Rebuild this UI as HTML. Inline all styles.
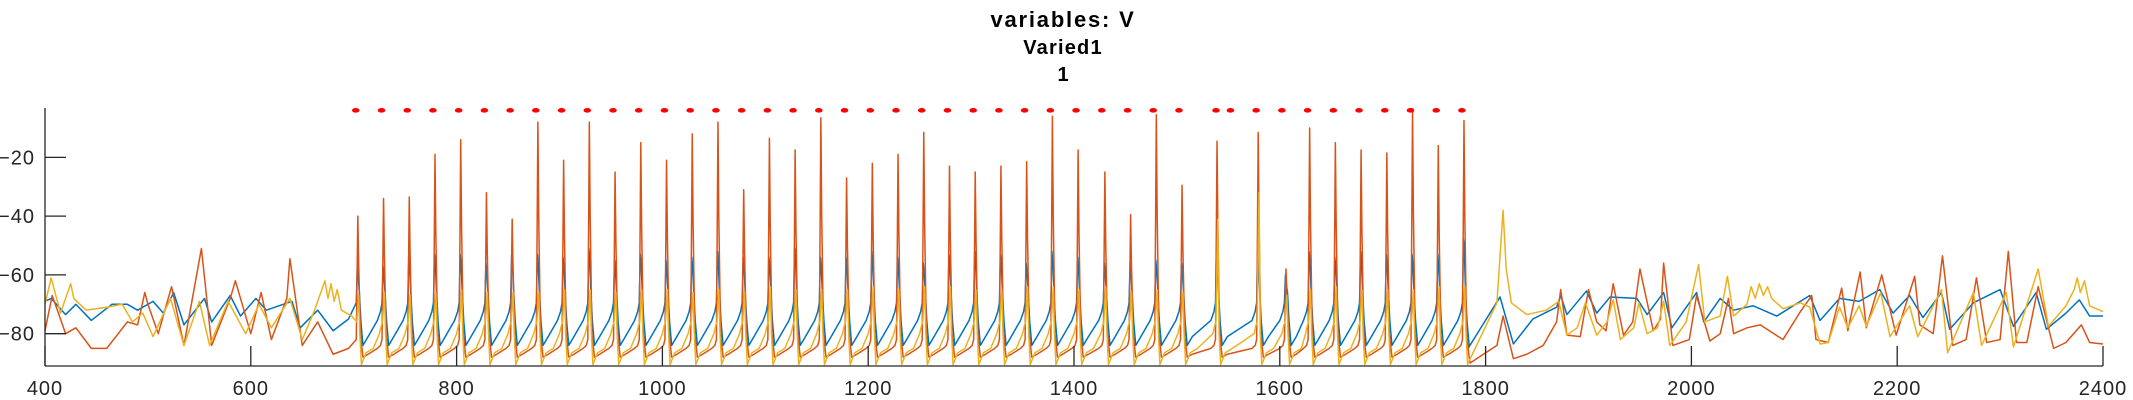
<!DOCTYPE html>
<html>
<head>
<meta charset="utf-8">
<style>
  html,body{margin:0;padding:0;background:#fff;}
  svg{display:block;font-family:"Liberation Sans",Helvetica,Arial,sans-serif;}
</style>
</head>
<body>
<svg id="chart" width="2133" height="400" viewBox="0 0 2133 400" xmlns="http://www.w3.org/2000/svg">
  <text x="1063" y="27" text-anchor="middle" font-size="22" font-weight="bold" letter-spacing="1.8" fill="#000">variables: V</text>
  <text x="1063" y="54" text-anchor="middle" font-size="20" font-weight="bold" letter-spacing="1.2" fill="#000">Varied1</text>
  <text x="1063" y="81" text-anchor="middle" font-size="20" font-weight="bold" fill="#000">1</text>
  <g id="plot"></g>
  <g id="axes"></g>
</svg>
<script>
// ---- data ----
const xTicks = [400, 600, 800, 1000, 1200, 1400, 1600, 1800, 2000, 2200, 2400];
const yTicks = [-80, -60, -40, -20];
const dotTimes = [702,727,752,777,802,827,852,877,902,927,952,977,1002,1027,1052,1077,1102,1127,1152,1177,1202,1227,1252,1277,1302,1327,1352,1377,1402,1427,1452,1477,1502,1538,1552,1577,1602,1627,1652,1677,1702,1727,1752,1777];
const dotLevel = -4;
const spikeTimes = [704,729,754,779,804,829,854,879,904,929,954,979,1004,1029,1054,1079,1104,1129,1154,1179,1204,1229,1254,1279,1304,1329,1354,1379,1404,1430,1455,1480,1505,1539,1579,1606,1629,1654,1679,1704,1729,1754,1779];
const redPeaks = [-40,-34,-33.5,-19,-14,-32,-41,-8,-21,-8,-25,-15,-21,-12,-8,-31,-13.5,-17.5,-6.5,-27,-22,-19,-11.5,-23,-25,-23,-21.5,-6,-17.5,-25,-39.5,-5.5,-29.5,-14.5,-11.5,-58,-10,-15,-17.5,-18.5,-3.5,-16,-7.5];
const bluePeaks = [-60,-60,-57,-56,-56,-59,-56,-56,-57,-54,-58,-56,-58,-57,-55,-57,-57,-54,-57,-57,-55,-57,-59,-56,-55,-56,-59,-55,-57,-59,-59,-58,-59,-52,-54,-63,-55,-57,-55,-56,-56,-56,-51];
const orangePeaks = [-67,-66,-67,-66,-65,-66,-66,-66,-65,-65,-66,-65,-65,-66,-65,-66,-64,-65,-65,-65,-64,-65,-64,-64,-65,-65,-64,-64,-65,-64,-66,-65,-66,-41,-32,-67,-65,-64,-65,-65,-65,-64,-64];
const blueTrough = -84, bluePre = -72.5;
const redTrough = -88, redPre = -84;
const orangeTrough = -90.5, orangePre = -80;

const bluePreT = [400,406,420,430,445,465,480,490,505,515,525,535,555,562,580,590,605,615,640,648,665,680,695];
const bluePreV = [-69,-68,-73.5,-70,-75.5,-70,-70,-72,-69,-73,-66,-77,-68,-76,-67,-74,-68,-72,-69,-78,-72,-79,-75];
const redPreT = [400,407,420,430,445,460,480,490,497,500,510,523,535,552,562,580,585,600,610,620,635,638,650,665,680,695];
const redPreV = [-79,-67,-80,-78,-85,-85,-76,-77,-66,-70,-80,-64,-84,-51,-84,-68,-62,-80,-66,-82,-68,-54.5,-84,-76,-87,-85];
const orangePreT = [400,406,415,425,428,440,460,475,485,495,505,522,535,550,560,578,595,608,620,638,650,662,672,675,678,681,684,688,698];
const orangePreV = [-70,-61,-73,-63,-68,-72,-71,-70,-76,-73,-81,-68,-84,-69,-84,-69,-80,-70,-78,-68,-82,-72,-62,-68,-63,-69,-65,-72,-74];

const bluePostT = [1783,1814,1827,1846,1869,1873,1879,1898,1908,1921,1947,1957,1973,1981,2005,2012,2028,2041,2060,2083,2115,2125,2144,2163,2183,2196,2212,2225,2243,2251,2274,2300,2313,2335,2345,2364,2377,2387,2400];
const bluePostV = [-85,-67.5,-83.5,-75,-71,-67,-73.5,-65.5,-73,-67.5,-68,-73.5,-66,-78,-66,-76,-68,-72,-70.5,-74,-67,-75.5,-68,-69,-65,-73,-67,-74.5,-66,-78.5,-69.5,-65,-77.5,-66,-78.5,-73,-68.5,-74,-74];
const redPostT = [1785,1811,1817,1827,1840,1856,1869,1873,1879,1892,1900,1908,1917,1924,1934,1943,1950,1963,1970,1973,1982,1998,2005,2018,2028,2036,2041,2054,2067,2080,2089,2105,2117,2121,2133,2146,2152,2164,2170,2185,2199,2217,2222,2235,2244,2254,2267,2277,2287,2300,2308,2316,2326,2337,2352,2364,2379,2387,2400];
const redPostV = [-90,-84,-74,-88.5,-87,-84,-76,-65,-80.5,-81,-65,-76,-79,-63,-80.5,-76,-58,-79,-75,-56,-84,-82,-67,-82.5,-80,-68,-80,-78,-77,-80,-82,-73,-67,-82,-83,-64.5,-79,-59,-78,-60,-80.5,-60.5,-77,-80,-53.5,-84,-82,-61,-83,-82,-52,-83,-83,-64,-85,-83,-77,-83,-83.5];
const orangePostT = [1783,1811,1817,1820,1825,1840,1859,1871,1879,1889,1897,1908,1918,1924,1931,1944,1949,1957,1967,1973,1979,1995,2007,2013,2028,2035,2041,2054,2058,2062,2066,2070,2074,2078,2089,2106,2115,2125,2133,2144,2152,2163,2170,2184,2193,2212,2220,2243,2249,2274,2282,2306,2313,2337,2347,2364,2372,2375,2378,2382,2387,2400];
const orangePostV = [-90,-69.5,-38,-58,-69.5,-73.5,-72,-69,-80.5,-78,-69.5,-80.5,-76,-68.5,-82,-78,-69.5,-80,-78,-69,-84,-76,-56.5,-76,-74,-60.5,-74,-70,-64,-68,-63,-67,-64,-68,-71.5,-69.5,-71,-83.5,-83,-71,-78,-70.5,-77.5,-66,-81,-70.5,-81,-65,-86.5,-66,-84,-66,-84.5,-58,-77.5,-70.5,-65,-61,-66,-62,-70.5,-72.5];

// ---- scales ----
const X0 = 45, X1 = 2103, YB = 366, YT = 108;
const xMin = 400, xMax = 2400, yMin = -91, yMax = -3.2;
const xs = t => X0 + (t - xMin) / (xMax - xMin) * (X1 - X0);
const ys = v => YB - (v - yMin) / (yMax - yMin) * (YB - YT);

function zipPts(T, V) { return T.map((t, i) => [t, V[i]]); }

function spikeRegion(peaks, kind) {
  const pts = [];
  for (let k = 0; k < spikeTimes.length; k++) {
    const t = spikeTimes[k];
    const next = k + 1 < spikeTimes.length ? spikeTimes[k + 1] : t + 6;
    const p = peaks[k];
    if (kind === 'red') {
      pts.push([t - 1.5, redPre + 2], [t, p], [t + 0.8, (p + redTrough) / 2 + 8], [t + 2.5, -80], [t + 5, redTrough]);
      if (next - t > 10) pts.push([t + 10, redTrough + 1], [next - 6, redPre - 1], [next - 3, redPre]);
    } else if (kind === 'blue') {
      pts.push([t - 1.5, bluePre + 3], [t - 0.5, p + 3], [t + 0.3, p], [t + 1.5, -66], [t + 3, -76], [t + 5, blueTrough]);
      if (next - t > 10) pts.push([t + 10, blueTrough + 3], [next - 6, bluePre - 3], [next - 3, bluePre]);
    } else {
      pts.push([t - 1, orangePre + 4], [t + 0.8, p], [t + 2, -80], [t + 3.5, orangeTrough]);
      if (next - t > 10) pts.push([t + 8, orangeTrough + 4], [t + 15, -85], [next - 4, orangePre], [next - 2, orangePre + 3]);
    }
  }
  return pts;
}

const plot = document.getElementById('plot');
const axes = document.getElementById('axes');
const NS = 'http://www.w3.org/2000/svg';

function drawSeries(name, color, pre, peaks, kind, post) {
  const pts = pre.concat(spikeRegion(peaks, kind), post);
  const el = document.createElementNS(NS, 'polyline');
  el.setAttribute('points', pts.map(p => xs(p[0]).toFixed(2) + ',' + ys(p[1]).toFixed(2)).join(' '));
  el.setAttribute('fill', 'none');
  el.setAttribute('stroke', color);
  el.setAttribute('stroke-width', '1.5');
  el.setAttribute('stroke-linejoin', 'round');
  
  
  plot.appendChild(el);
}
drawSeries('series-blue', '#0072BD', zipPts(bluePreT, bluePreV), bluePeaks, 'blue', zipPts(bluePostT, bluePostV));
drawSeries('series-red', '#D95319', zipPts(redPreT, redPreV), redPeaks, 'red', zipPts(redPostT, redPostV));
drawSeries('series-orange', '#EDB120', zipPts(orangePreT, orangePreV), orangePeaks, 'orange', zipPts(orangePostT, orangePostV));

dotTimes.forEach(t => {
  const d = document.createElementNS(NS, 'ellipse');
  d.setAttribute('cx', xs(t));
  d.setAttribute('cy', ys(dotLevel));
  d.setAttribute('rx', 3.8);
  d.setAttribute('ry', 2.3);
  d.setAttribute('fill', '#FF0000');
  
  
  plot.appendChild(d);
});

// axes
function line(x1, y1, x2, y2, name) {
  const l = document.createElementNS(NS, 'line');
  l.setAttribute('x1', x1); l.setAttribute('y1', y1); l.setAttribute('x2', x2); l.setAttribute('y2', y2);
  l.setAttribute('stroke', '#262626'); l.setAttribute('stroke-width', '1.3');
  
  
  axes.appendChild(l);
}
line(X0, YB, X1, YB, 'x-axis-line');
line(X0, YT, X0, YB, 'y-axis-line');
xTicks.forEach(t => {
  const x = xs(t);
  line(x, YB, x, YB - 20, 'x-tick');
  const tx = document.createElementNS(NS, 'text');
  tx.setAttribute('x', x); tx.setAttribute('y', 395);
  tx.setAttribute('text-anchor', 'middle'); tx.setAttribute('font-size', '20'); tx.setAttribute('letter-spacing', '1'); tx.setAttribute('fill', '#262626');
  tx.textContent = t;
  
  
  axes.appendChild(tx);
});
yTicks.forEach(v => {
  const y = ys(v);
  line(X0, y, X0 + 21, y, 'y-tick');
  const tx = document.createElementNS(NS, 'text');
  tx.setAttribute('x', 35); tx.setAttribute('y', y + 7);
  tx.setAttribute('text-anchor', 'end'); tx.setAttribute('font-size', '20'); tx.setAttribute('letter-spacing', '1'); tx.setAttribute('fill', '#262626');
  tx.textContent = '\u2212' + Math.abs(v);
  
  
  axes.appendChild(tx);
});
</script>
</body>
</html>
